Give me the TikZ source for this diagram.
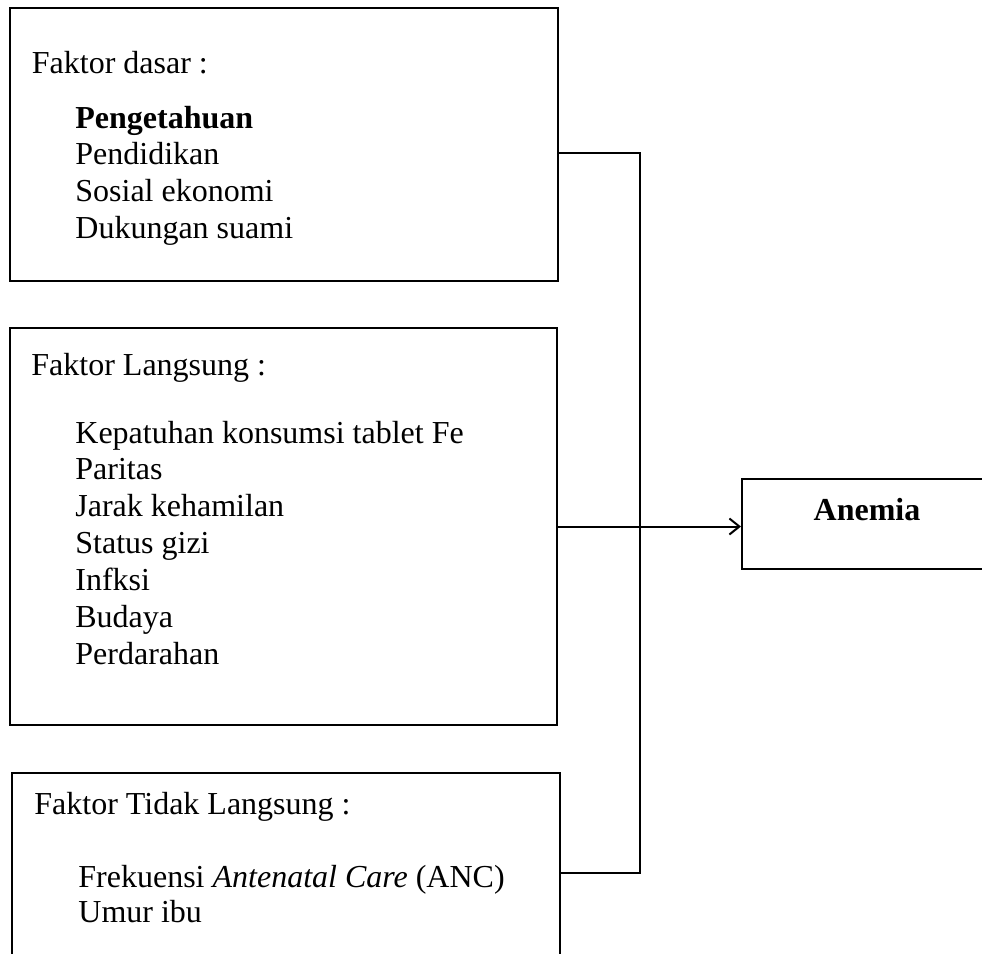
\documentclass[tikz,border=0pt]{standalone}
\usepackage{fontspec}
\setmainfont{Liberation Serif}
\usetikzlibrary{arrows.meta, positioning}
\tikzset{
  font=\fontsize{16}{18.35}\selectfont,          % Times-like text everywhere
  factorbox/.style = {rectangle, draw, line width=1pt, inner sep=0pt},
  heading/.style   = {anchor=base west, inner sep=0pt},
  item/.style      = {anchor=base west, inner sep=0pt},
  link/.style      = {line width=1pt},
  arrow/.style     = {-{Straight Barb[length=5pt,width=8pt]}, line width=1pt}
}

\begin{document}
\begin{tikzpicture}[x=0.5pt, y={(0pt,-0.5pt)}]
  \useasboundingbox (0,0) rectangle (982,954);
  \clip (0,0) rectangle (982,954);
  % boxes
  \node[factorbox, minimum width=274pt, minimum height=136.5pt] (dasar) at (284,144.5) {};
  \node[factorbox, minimum width=273.5pt, minimum height=198.5pt] (langsung) at (283.5,526.5) {};
  \node[factorbox, minimum width=274pt, minimum height=108.5pt] (tidak) at (286,881.5) {};
  \node[factorbox, minimum width=129pt, minimum height=45pt] (anemia) at (871,524) {};
  % texts
  \node[heading] (dasar-head) at (31.5,73) {Faktor dasar :};
  \foreach \txt [count=\i from 0] in {\textbf{Pengetahuan}, Pendidikan, Sosial ekonomi, Dukungan suami}
    \node[item] (dasar-\i) at (75,128+36.7*\i) {\txt};
  \node[heading] (langsung-head) at (31,375) {Faktor Langsung :};
  \foreach \txt [count=\i from 0] in {Kepatuhan konsumsi tablet Fe, Paritas, Jarak kehamilan,
      Status gizi, Infksi, Budaya, Perdarahan}
    \node[item] (langsung-\i) at (75,443+36.9*\i) {\txt};
  \node[heading] (tidak-head) at (34,814) {Faktor Tidak Langsung :};
  \node[item] (tidak-0) at (78,887) {Frekuensi \textit{Antenatal Care} (ANC)};
  \node[item] (tidak-1) at (78,922) {Umur ibu};
  \node[anchor=base, inner sep=0pt] (anemia-txt) at (867,520) {\textbf{Anemia}};
  % connectors
  \coordinate (bus-top) at (640,153);
  \coordinate (bus-bot) at (640,873);
  \draw[link] (dasar.east |- bus-top) -- (bus-top) -- (bus-bot) -- (tidak.east |- bus-bot);
  \draw[arrow] (langsung.east) -- (langsung.east -| anemia.west);
\end{tikzpicture}
\end{document}
